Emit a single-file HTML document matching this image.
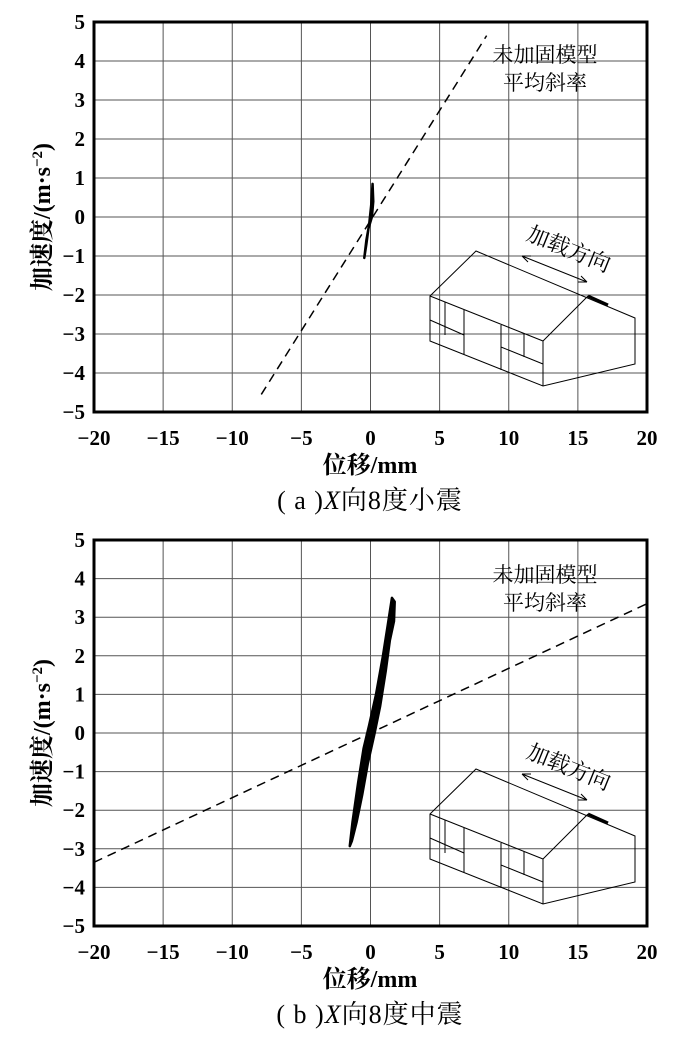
<!DOCTYPE html>
<html><head><meta charset="utf-8"><style>
body{margin:0;background:#fff;}
svg{display:block;}
text{font-family:"Liberation Serif","Noto Serif CJK SC",serif;fill:#000;}
</style></head><body>
<svg id="s" width="700" height="1048" viewBox="0 0 700 1048"></svg>
<script>
const xTicks=[-20,-15,-10,-5,0,5,10,15,20];
const yTicks=[-5,-4,-3,-2,-1,0,1,2,3,4,5];
// panel a loop (displacement mm, accel m/s2)
const loopAX=[-0.45,-0.3,-0.1,0.05,0.15,0.2,0.1,-0.15,-0.3,-0.45];
const loopAY=[-1.05,-0.6,-0.2,0.3,0.85,0.4,0.0,-0.3,-0.7,-1.05];
const slopeA=[[-7.9,-4.55],[8.4,4.65]];
// panel b loop
const loopBX=[-1.5,-1.3,-0.9,-0.5,-0.1,0.4,0.9,1.25,1.55,1.75,1.7,1.4,1.1,0.7,0.3,-0.2,-0.6,-1.0,-1.35,-1.5];
const loopBY=[-2.93,-2.3,-1.3,-0.4,0.2,1.0,2.0,2.8,3.5,3.4,2.9,2.4,1.6,0.7,0.0,-0.8,-1.6,-2.3,-2.8,-2.93];
const slopeB=[[-20,-3.35],[20,3.35]];
const S=document.getElementById('s');
const NS='http://www.w3.org/2000/svg';
function mk(t,a,p){const e=document.createElementNS(NS,t);for(const k in a)e.setAttribute(k,a[k]);(p||S).appendChild(e);return e;}
function panel(top,bot,lx,ly,slope,caption,id,houseDy,labY){
  const L=94,R=647;
  const g=mk('g',{});
  
  
  const X=v=>L+(v+20)/40*(R-L), Y=v=>bot-(v+5)/10*(bot-top);
  xTicks.forEach(v=>{const l=mk('line',{x1:X(v),x2:X(v),y1:top,y2:bot,stroke:'#555','stroke-width':1},g);
    
    const t=mk('text',{x:X(v),y:bot+33,'text-anchor':'middle','font-size':21,'font-weight':'bold'},g);t.textContent=v<0?'\u2212'+(-v):v;
    });
  yTicks.forEach(v=>{const l=mk('line',{x1:L,x2:R,y1:Y(v),y2:Y(v),stroke:'#555','stroke-width':1},g);
    
    const t=mk('text',{x:85,y:Y(v)+7,'text-anchor':'end','font-size':21,'font-weight':'bold'},g);t.textContent=v<0?'\u2212'+(-v):v;
    });
  const f=mk('rect',{x:L,y:top,width:R-L,height:bot-top,fill:'none',stroke:'#000','stroke-width':3},g);
  
  const d=mk('line',{x1:X(slope[0][0]),y1:Y(slope[0][1]),x2:X(slope[1][0]),y2:Y(slope[1][1]),stroke:'#000','stroke-width':1.5,'stroke-dasharray':'9,6'},g);
  
  const pts=lx.map((v,i)=>X(v)+','+Y(ly[i])).join(' ');
  const p=mk('polygon',{points:pts,fill:'#000',stroke:'#000','stroke-width':2.5,'stroke-linejoin':'round'},g);
  
  const t1=mk('text',{x:545,y:labY,'text-anchor':'middle','font-size':21},g);t1.textContent='未加固模型';
  
  const t2=mk('text',{x:545,y:labY+28,'text-anchor':'middle','font-size':21},g);t2.textContent='平均斜率';
  
  const h=mk('g',{transform:'translate(0,'+houseDy+')',stroke:'#000','stroke-width':1,fill:'none'},g);
  
  mk('path',{d:'M430,296 L476,251 L635,318 L635,364 L543,386 L430,341 Z M430,296 L543,341 L543,386 M543,341 L588,296 M445,302 L445,335 M464,310 L464,355 M501,325 L501,370 M524,333 L524,357 M430,320 L464,335 M501,347 L543,364'},h);
  mk('line',{x1:588,y1:296,x2:608,y2:305,'stroke-width':3},h);
  mk('path',{d:'M522,256 L587,282 M522,256 L531,256 M522,256 L528,262 M587,282 L578,282 M587,282 L581,276'},h);
  const tt=mk('text',{x:0,y:0,'font-size':22,stroke:'none',fill:'#000','text-anchor':'middle',transform:'translate(566,256) rotate(22)'},h);tt.textContent='加载方向';
  const xt=mk('text',{x:370,y:bot+61,'text-anchor':'middle','font-size':24,'font-weight':'bold'},g);xt.textContent='位移/mm';
  
  const cy=(top+bot)/2;
  const yt=mk('text',{x:0,y:0,'text-anchor':'middle','font-size':24,'font-weight':'bold',transform:'translate(50,'+cy+') rotate(-90)'},g);
  yt.innerHTML='加速度/(m·s<tspan dy="-8" font-size="15">−2</tspan><tspan dy="8">)</tspan>';
  
  const c=mk('text',{x:370,y:bot+97,'text-anchor':'middle','font-size':26,'letter-spacing':'1'},g);
  c.innerHTML=caption;
  
}
panel(22,412,loopAX,loopAY,slopeA,'( a )<tspan font-style="italic">X</tspan>向8度小震','a',0,62);
panel(540,926,loopBX,loopBY,slopeB,'( b )<tspan font-style="italic">X</tspan>向8度中震','b',518,582);
</script>
</body></html>
